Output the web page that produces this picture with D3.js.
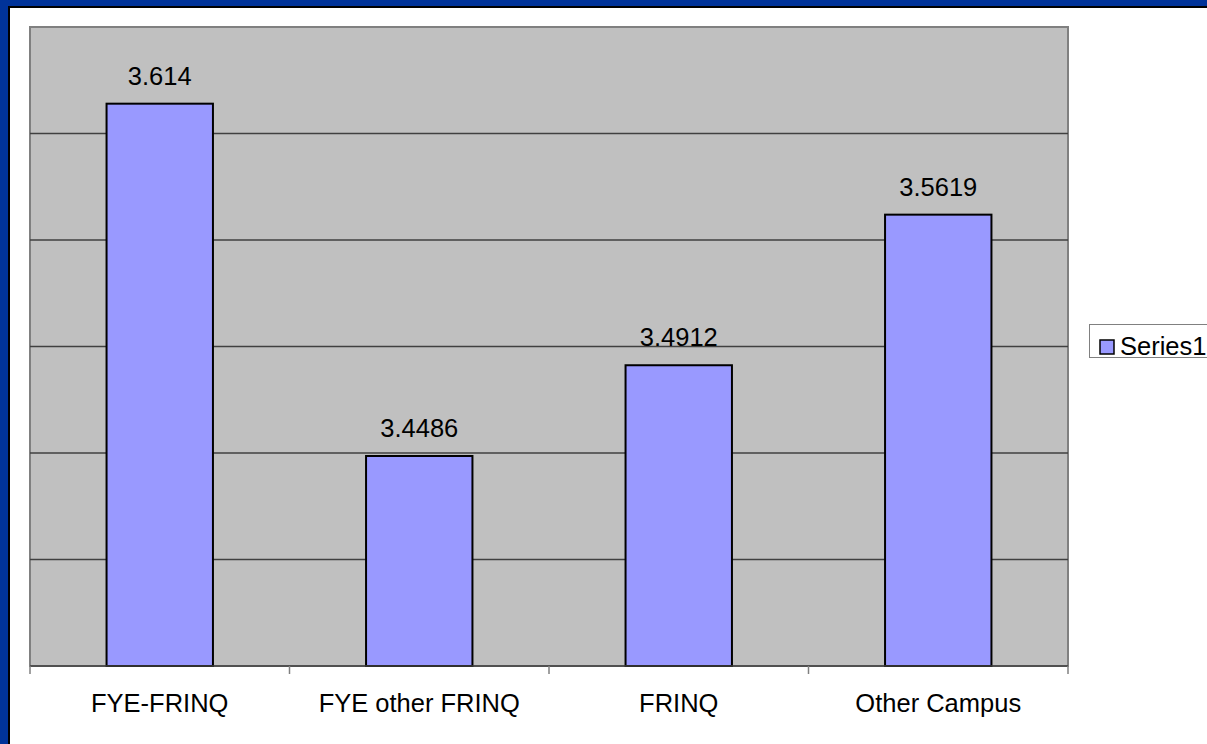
<!DOCTYPE html>
<html>
<head>
<meta charset="utf-8">
<script src="https://cdn.jsdelivr.net/npm/d3@7"></script>
<style>
  body { margin: 0; background: #003399; overflow: hidden; }
  text { font-family: "Liberation Sans", Arial, sans-serif; }
</style>
</head>
<body>
<div id="chart-area"></div>
<script>
// values
const categories = ["FYE-FRINQ", "FYE other FRINQ", "FRINQ", "Other Campus"];
const values = [3.614, 3.4486, 3.4912, 3.5619];
const valueLabels = ["3.614", "3.4486", "3.4912", "3.5619"];
const yTicks = [3.35, 3.4, 3.45, 3.5, 3.55, 3.6, 3.65];
const seriesName = "Series1";

const W = 1207, H = 744;
const plot = { left: 30, top: 27, right: 1068, bottom: 666 };
const fontSize = 25.5;

let svg = d3.select("#chart-area").append("svg")
  .attr("width", W)
  .attr("height", H);

// blue frame, black edge, white chart area
svg.append("rect").attr("x", 0).attr("y", 0).attr("width", W).attr("height", H).attr("fill", "#003399");
svg.append("rect").attr("x", 8).attr("y", 6).attr("width", W).attr("height", H)
  .attr("fill", "#000");
svg.append("rect").attr("x", 10).attr("y", 8).attr("width", W).attr("height", H)
  .attr("fill", "#fff");

var x = d3.scaleBand()
  .domain(categories)
  .range([plot.left, plot.right])
  .paddingInner(0.59)
  .paddingOuter(0.295);

var xCat = d3.scaleBand()
  .domain(categories)
  .range([plot.left, plot.right]);

var y = d3.scaleLinear()
  .domain([3.35, 3.65])
  .range([plot.bottom, plot.top]);

// plot background
svg.append("rect")
  .attr("x", plot.left).attr("y", plot.top)
  .attr("width", plot.right - plot.left).attr("height", plot.bottom - plot.top)
  .attr("fill", "#c0c0c0")
  .attr("stroke", "#808080")
  .attr("stroke-width", 2);

// gridlines
svg.append("g").selectAll("line")
  .data(yTicks.slice(1, -1))
  .enter().append("line")
  .attr("x1", plot.left).attr("x2", plot.right)
  .attr("y1", d => y(d)).attr("y2", d => y(d))
  .attr("stroke", "#404040")
  .attr("stroke-width", 1.5);

// bars
svg.append("g").selectAll("rect")
  .data(values)
  .enter().append("rect")
  .attr("x", (d, i) => x(categories[i]))
  .attr("y", d => y(d))
  .attr("width", x.bandwidth())
  .attr("height", d => plot.bottom - y(d))
  .attr("fill", "#9999ff")
  .attr("stroke", "#000")
  .attr("stroke-width", 2);

// value labels
svg.append("g").selectAll("text")
  .data(values)
  .enter().append("text")
  .attr("x", (d, i) => x(categories[i]) + x.bandwidth() / 2)
  .attr("y", d => y(d) - 19)
  .attr("text-anchor", "middle")
  .attr("font-size", fontSize)
  .attr("fill", "#000")
  .text((d, i) => valueLabels[i]);

// x axis: baseline, category boundary ticks, labels
var tickPos = categories.map(c => xCat(c)).concat([plot.right]);
svg.append("line")
  .attr("x1", plot.left).attr("x2", plot.right)
  .attr("y1", plot.bottom).attr("y2", plot.bottom)
  .attr("stroke", "#404040").attr("stroke-width", 1.5);
svg.append("g").selectAll("line")
  .data(tickPos)
  .enter().append("line")
  .attr("x1", d => d).attr("x2", d => d)
  .attr("y1", plot.bottom).attr("y2", plot.bottom + 8)
  .attr("stroke", "#808080").attr("stroke-width", 1.5);
svg.append("g").selectAll("text")
  .data(categories)
  .enter().append("text")
  .attr("x", d => xCat(d) + xCat.bandwidth() / 2)
  .attr("y", 712)
  .attr("text-anchor", "middle")
  .attr("font-size", fontSize)
  .text(d => d);

// legend
var legend = svg.append("g");
legend.append("rect")
  .attr("x", 1089.5).attr("y", 324.5)
  .attr("width", 140).attr("height", 33)
  .attr("fill", "#fff").attr("stroke", "#808080");
legend.append("rect")
  .attr("x", 1100).attr("y", 340)
  .attr("width", 14).attr("height", 14)
  .attr("fill", "#9999ff").attr("stroke", "#000").attr("stroke-width", 1.5);
legend.append("text")
  .attr("x", 1120).attr("y", 355)
  .attr("font-size", fontSize)
  .text(seriesName);
</script>
</body>
</html>
